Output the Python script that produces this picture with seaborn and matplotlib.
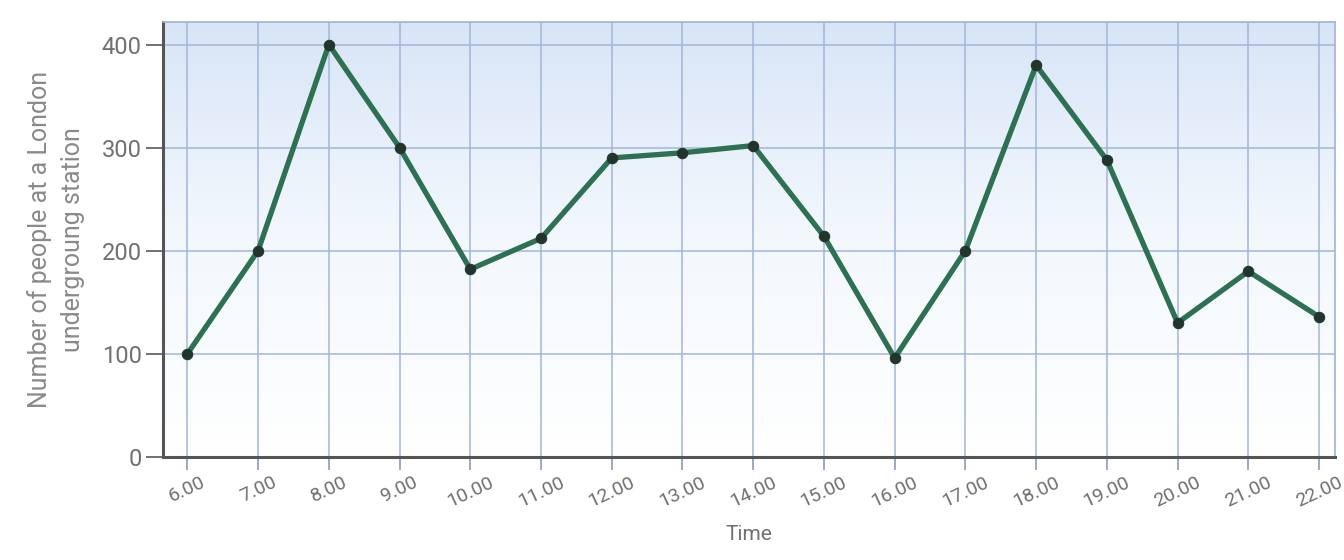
import numpy as np
import pandas as pd
import matplotlib
matplotlib.use("Agg")
import matplotlib.pyplot as plt
from matplotlib.colors import LinearSegmentedColormap
import seaborn as sns

times = ["6.00", "7.00", "8.00", "9.00", "10.00", "11.00", "12.00", "13.00", "14.00",
         "15.00", "16.00", "17.00", "18.00", "19.00", "20.00", "21.00", "22.00"]
people = [100, 200, 400, 300, 182, 212, 290, 295, 302, 214, 96, 200, 380, 288, 130, 180, 136]
y_ticks = [0, 100, 200, 300, 400]

sns.set_theme(style="white")
font_list = ["Roboto", "DejaVu Sans"]
plt.rcParams["font.family"] = font_list

df = pd.DataFrame({"idx": np.arange(len(times)), "people": people})

fig = plt.figure(figsize=(13.44, 5.6), dpi=100)
ax = fig.add_axes([0.121, 0.184, 0.872, 0.777])

xlim = (-0.35, len(times) - 1 + 0.22)
ylim = (0, 422)

# gradient background: light blue top to white bottom
cmap = LinearSegmentedColormap.from_list("bg", ["#ffffff", "#f3f8fd", "#d8e5f7"])
grad = np.linspace(0, 1, 256).reshape(-1, 1)
ax.imshow(grad, extent=[xlim[0], xlim[1], ylim[0], ylim[1]], origin="lower",
          aspect="auto", cmap=cmap, zorder=0)

sns.lineplot(data=df, x="idx", y="people", ax=ax, color="#2d7052", linewidth=3.8,
             marker="o", markersize=7.5, markerfacecolor="#22352c",
             markeredgecolor="#22352c", zorder=3)

ax.set_xlim(*xlim)
ax.set_ylim(*ylim)
ax.set_xticks(np.arange(len(times)))
ax.set_xticklabels(times, rotation=25, ha="center")
ax.set_yticks(y_ticks)

ax.grid(True, color="#a3b6d8", linewidth=1.1, zorder=1)
for ln in ax.get_xgridlines() + ax.get_ygridlines():
    ln.set_zorder(1)

for side in ["left", "bottom"]:
    ax.spines[side].set_color("#555555")
    ax.spines[side].set_linewidth(2.2)
for side in ["top", "right"]:
    ax.spines[side].set_color("#9fb3d8")
    ax.spines[side].set_linewidth(1.2)

ax.tick_params(axis="y", which="both", direction="out", length=12, width=1.3,
               color="#666666", labelsize=17, labelcolor="#707070", pad=3, left=True)
ax.tick_params(axis="x", which="both", direction="out", length=9, width=1.2,
               color="#8a9bb8", labelsize=14, labelcolor="#707070", pad=3, bottom=True)

ax.set_xlabel("Time", fontsize=15, color="#707070", labelpad=10)
ax.set_ylabel("Number of people at a London\nundergroung station", fontsize=18,
              color="#8a8a8a", labelpad=12, linespacing=1.45)

fig.savefig("out.png", dpi=100)
